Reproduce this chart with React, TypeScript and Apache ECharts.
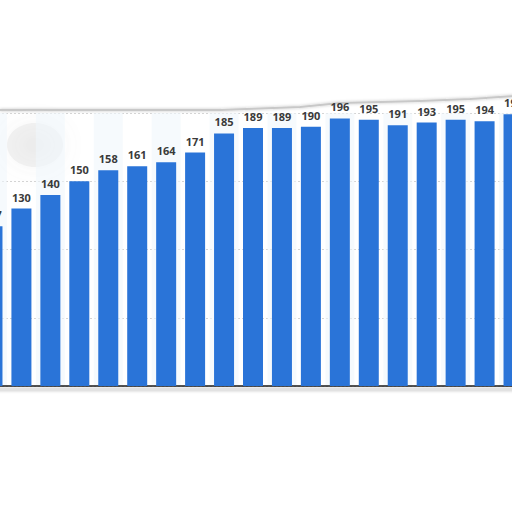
import React, { useEffect, useRef } from "react";
import * as echarts from "echarts";

const categories = ["c0","c1","c2","c3","c4","c5","c6","c7","c8","c9","c10","c11","c12","c13","c14","c15","c16","c17","c18"];
const values = [117, 130, 140, 150, 158, 161, 164, 171, 185, 189, 189, 190, 196, 195, 191, 193, 195, 194, 199];
const yTicks = [0, 50, 100, 150, 200];

const OFFSET = 22;

export default function App() {
  const ref = useRef<HTMLDivElement>(null);
  useEffect(() => {
    if (!ref.current) return;
    const chart = echarts.init(ref.current, null, { renderer: "svg" });
    chart.setOption({
      animation: false,
      backgroundColor: "#ffffff",
      grid: { left: 0, right: 0, top: 113, bottom: 126, containLabel: false },
      xAxis: {
        type: "category",
        data: categories,
        axisLine: { show: true, lineStyle: { color: "#1a1a1a", width: 1.5 } },
        axisTick: { show: false },
        axisLabel: { show: false },
        splitArea: { show: true, areaStyle: { color: ["rgba(240,246,252,0.6)", "rgba(255,255,255,0)"] } },
      },
      yAxis: {
        type: "value",
        min: yTicks[0],
        max: yTicks[yTicks.length - 1],
        interval: 50,
        axisLabel: { show: false },
        axisLine: { show: false },
        axisTick: { show: false },
        splitLine: { show: true, lineStyle: { color: "#d4d4d4", type: [2, 2], width: 1 } },
      },
      series: [
        {
          type: "bar",
          data: values,
          barWidth: 20,
          itemStyle: { color: "#2a74d8" },
          label: {
            show: true,
            position: "top",
            distance: 6,
            color: "#3a3a3a",
            fontSize: 11,
            fontWeight: "bold",
            fontFamily: "Open Sans",
          },
        },
      ],
      graphic: [
        {
          type: "polyline",
          shape: { points: [[OFFSET, 110], [OFFSET + 220, 110], [OFFSET + 300, 107], [OFFSET + 340, 103], [OFFSET + 420, 101], [OFFSET + 470, 99], [OFFSET + 530, 95]] },
          style: { stroke: "#c8c8c8", lineWidth: 2, fill: null, shadowBlur: 3, shadowColor: "rgba(0,0,0,0.25)" },
          silent: true,
        },
        {
          type: "rect",
          shape: { x: 0, y: 388, width: 560, height: 3 },
          style: { fill: "#e2e2e2", shadowBlur: 3, shadowColor: "rgba(0,0,0,0.2)" },
          silent: true,
        },
        {
          type: "ellipse",
          shape: { cx: OFFSET + 35, cy: 145, rx: 28, ry: 22 },
          style: { fill: "rgba(190,190,190,0.18)", shadowBlur: 25, shadowColor: "rgba(140,140,140,0.45)" },
          silent: true,
        },
      ],
    });
    return () => chart.dispose();
  }, []);
  return <div ref={ref} style={{ position: "fixed", left: -OFFSET, top: 0, width: 550, height: 512 }} />;
}
